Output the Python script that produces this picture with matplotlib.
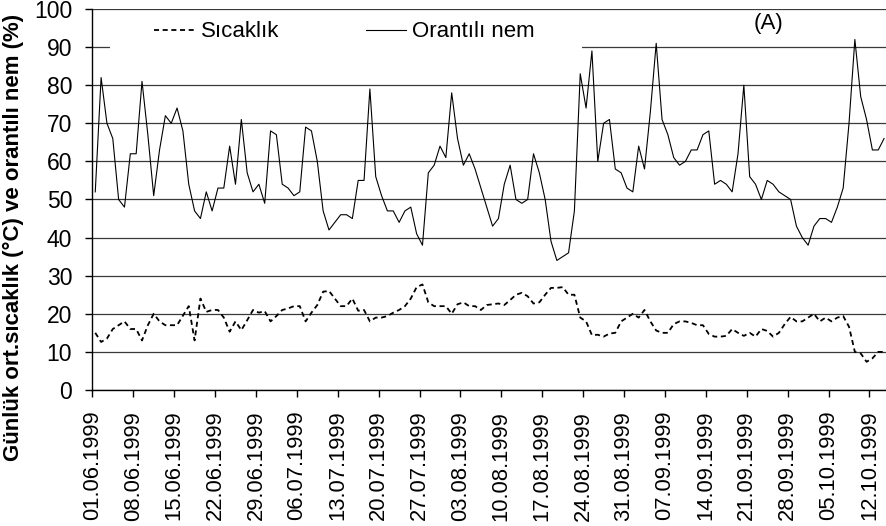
import numpy as np
import pandas as pd
import matplotlib
matplotlib.use("Agg")
import matplotlib.pyplot as plt
from matplotlib.patches import Rectangle

plt.rcParams['font.family'] = ['Liberation Sans', 'DejaVu Sans']

# daily values, 01.06.1999 - 14.10.1999
start_date = "1999-06-01"
tick_step = 7

humidity = [
    52, 82, 70, 66, 50, 48, 62, 62, 81, 67, 51, 63, 72, 70, 74, 68, 54, 47, 45, 52,
    47, 53, 53, 64, 54, 71, 57, 52, 54, 49, 68, 67, 54, 53, 51, 52, 69, 68, 60, 47,
    42, 44, 46, 46, 45, 55, 55, 79, 56, 51, 47, 47, 44, 47, 48, 41, 38, 57, 59, 64,
    61, 78, 66, 59, 62, 58, 53, 48, 43, 45, 54, 59, 50, 49, 50, 62, 57, 50, 39, 34,
    35, 36, 47, 83, 74, 89, 60, 70, 71, 58, 57, 53, 52, 64, 58, 73, 91, 71, 67, 61,
    59, 60, 63, 63, 67, 68, 54, 55, 54, 52, 62, 80, 56, 54, 50, 55, 54, 52, 51, 50,
    43, 40, 38, 43, 45, 45, 44, 48, 53, 70, 92, 77, 71, 63, 63, 66,
]

temperature = [
    15.0, 12.6, 13.5, 16.0, 17.0, 18.0, 16.0, 16.0, 13.0, 17.0, 20.0, 18.0, 17.0, 17.0,
    17.0, 19.5, 22.0, 13.0, 24.0, 20.5, 21.0, 21.0, 19.0, 15.3, 18.0, 15.7, 18.3, 21.0,
    20.3, 20.7, 18.0, 19.4, 21.0, 21.4, 22.0, 22.0, 18.0, 20.3, 22.3, 25.8, 26.0, 24.0,
    22.0, 22.0, 24.0, 20.8, 21.0, 18.0, 19.0, 19.0, 19.4, 20.3, 21.0, 22.0, 24.0, 27.0,
    27.7, 23.0, 22.0, 22.0, 22.0, 20.0, 22.5, 23.0, 22.0, 22.0, 21.0, 22.3, 22.5, 22.7,
    22.3, 23.6, 25.0, 25.5, 24.6, 22.7, 23.0, 25.0, 26.8, 26.8, 27.0, 25.0, 25.0, 19.0,
    18.0, 14.4, 14.5, 14.0, 14.8, 15.0, 18.0, 19.0, 20.0, 19.0, 21.0, 18.0, 15.6, 15.0,
    15.0, 17.3, 18.0, 18.0, 17.6, 17.0, 17.0, 14.7, 14.0, 14.0, 14.2, 16.0, 15.0, 14.2,
    15.0, 14.0, 16.0, 15.5, 14.0, 15.0, 17.3, 19.2, 18.0, 18.0, 19.0, 20.0, 18.0, 19.0,
    18.0, 19.0, 19.4, 16.6, 10.0, 9.6, 7.4, 8.3, 10.0, 10.0,
]

series_labels = ["Sıcaklık", "Orantılı nem"]
y_label = "Günlük ort.sıcaklık (°C) ve orantılı nem (%)"
panel_tag = "(A)"

n_days = len(humidity)
dates = pd.date_range(start_date, periods=n_days, freq="D")
x = np.arange(n_days) + 0.5  # points sit in the middle of each day slot
tick_pos = np.arange(0, n_days, tick_step)
tick_labels = [d.strftime("%d.%m.%Y") for d in dates[::tick_step]]

fig = plt.figure(figsize=(8.87, 5.26), dpi=100)
ax = fig.add_axes([0.1041, 0.2586, 0.8959, 0.7243])

ax.plot(x, temperature, color="black", lw=1.3, linestyle=(0, (2.8, 2.0)),
        label=series_labels[0], zorder=3)
ax.plot(x, humidity, color="black", lw=0.8, label=series_labels[1], zorder=3)

ax.set_xlim(0, n_days)
ax.set_ylim(0, 100)
ax.set_yticks(np.arange(0, 101, 10))
ax.set_xticks(tick_pos)
ax.set_xticklabels(tick_labels, rotation=90)

ax.set_axisbelow(True)
ax.grid(axis="y", color="#3a3a3a", lw=0.9)
ax.grid(axis="x", visible=False)

for side in ["top", "right"]:
    ax.spines[side].set_visible(False)
for side in ["left", "bottom"]:
    ax.spines[side].set_color("black")
    ax.spines[side].set_linewidth(1.0)

ax.tick_params(axis="y", length=5, width=1, pad=9.5, labelsize=16.5)
ax.tick_params(axis="x", length=5, width=1, pad=10, labelsize=15.8)

ax.set_ylabel(y_label, fontsize=16, fontweight="bold")
ax.yaxis.set_label_coords(-0.086, 0.40)

# white area behind the legend hides the 90 gridline there
ax.add_patch(Rectangle((0.022, 0.866), 0.594, 0.125, transform=ax.transAxes,
                       facecolor="white", edgecolor="none", zorder=1))

ax.legend(loc="center left", bbox_to_anchor=(0.0776, 0.94), ncol=2, frameon=False,
          fontsize=16, handlelength=1.8, handletextpad=0.3, columnspacing=3.9,
          borderpad=0, borderaxespad=0)

ax.text(0.851, 0.963, panel_tag, transform=ax.transAxes, fontsize=16,
        ha="center", va="center")

fig.savefig("out.png", dpi=100)
